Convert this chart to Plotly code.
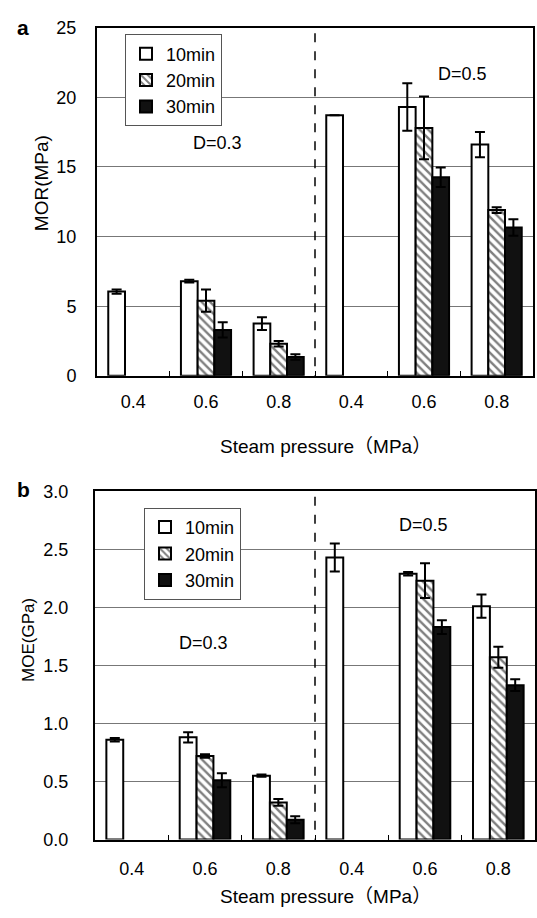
import plotly.graph_objects as go

W, H = 537, 918

# ---------------- data ----------------
tick_labels = ["0.4", "0.6", "0.8", "0.4", "0.6", "0.8"]
series_names = ["10min", "20min", "30min"]

mor_10 = [6.05, 6.8, 3.75, 18.7, 19.3, 16.6]
mor_20 = [None, 5.4, 2.3, None, 17.8, 11.9]
mor_30 = [None, 3.3, 1.35, None, 14.25, 10.65]
mor_10_err = [0.15, 0.1, 0.45, 0.0, 1.7, 0.9]
mor_20_err = [None, 0.8, 0.2, None, 2.25, 0.2]
mor_30_err = [None, 0.55, 0.2, None, 0.7, 0.6]

moe_10 = [0.86, 0.88, 0.55, 2.43, 2.29, 2.01]
moe_20 = [None, 0.72, 0.32, None, 2.23, 1.57]
moe_30 = [None, 0.51, 0.17, None, 1.83, 1.33]
moe_10_err = [0.015, 0.045, 0.01, 0.12, 0.015, 0.1]
moe_20_err = [None, 0.015, 0.03, None, 0.15, 0.09]
moe_30_err = [None, 0.06, 0.03, None, 0.06, 0.05]

FONT = "Liberation Sans, Arial, Noto Sans CJK JP, sans-serif"


def px_x(x):
    return x / W


def px_y(y):
    return 1 - y / H


fig = go.Figure()

styles = [
    dict(color="white", pattern=None),
    dict(color="white", pattern=dict(shape="\\", fgcolor="black", bgcolor="white", size=6, solidity=0.4)),
    dict(color="#111111", pattern=None),
]

xs = list(range(len(tick_labels)))

panels = [
    ("x", "y", "legend", [mor_10, mor_20, mor_30], [mor_10_err, mor_20_err, mor_30_err]),
    ("x2", "y2", "legend2", [moe_10, moe_20, moe_30], [moe_10_err, moe_20_err, moe_30_err]),
]

for xa, ya, leg, vals, errs in panels:
    for i, name in enumerate(series_names):
        marker = dict(color=styles[i]["color"], line=dict(color="black", width=2))
        if styles[i]["pattern"]:
            marker["pattern"] = styles[i]["pattern"]
        fig.add_trace(go.Bar(
            x=xs, y=vals[i], name=name, xaxis=xa, yaxis=ya, legend=leg,
            offsetgroup=str(i),
            marker=marker,
            error_y=dict(type="data", array=errs[i], symmetric=True,
                         color="black", thickness=2, width=5),
        ))

axis_common = dict(
    showline=True, linecolor="black", linewidth=2, mirror=True,
    tickfont=dict(family=FONT, size=18, color="black"),
    zeroline=False,
)

minor_ticks = dict(tickmode="array", tickvals=[0.5, 1.5, 2.5, 3.5, 4.5],
                   ticks="inside", ticklen=5, tickcolor="black", tickwidth=1)

fig.update_layout(
    xaxis=dict(domain=[px_x(97), px_x(533)], anchor="y", range=[-0.5, 5.5],
               tickmode="array", tickvals=xs, ticktext=tick_labels, ticks="",
               ticklabelstandoff=9, showgrid=False, minor=minor_ticks,
               **axis_common),
    yaxis=dict(domain=[px_y(374), px_y(18)], anchor="x", range=[0, 25],
               tickmode="array", tickvals=[0, 5, 10, 15, 20, 25], ticks="",
               ticklabelstandoff=15, showgrid=True, gridcolor="#777777", gridwidth=1,
               **axis_common),
    xaxis2=dict(domain=[px_x(95), px_x(535)], anchor="y2", range=[-0.5, 5.5],
                tickmode="array", tickvals=xs, ticktext=tick_labels, ticks="",
                ticklabelstandoff=12, showgrid=False, minor=minor_ticks,
                **axis_common),
    yaxis2=dict(domain=[px_y(848), px_y(492)], anchor="x2", range=[0, 3],
                tickmode="array", tickvals=[0, 0.5, 1, 1.5, 2, 2.5, 3], tickformat=".1f",
                ticks="", ticklabelstandoff=21, showgrid=True, gridcolor="#777777", gridwidth=1,
                **axis_common),
)

leg_common = dict(
    bgcolor="white", bordercolor="#555555", borderwidth=1,
    font=dict(family=FONT, size=18, color="black"),
    xanchor="left", yanchor="top", itemwidth=30, tracegroupgap=0,
)
fig.update_layout(
    legend=dict(x=px_x(125), y=px_y(25), **leg_common),
    legend2=dict(x=px_x(144), y=px_y(509), **leg_common),
    barmode="group", bargap=0.31, bargroupgap=0,
    width=W, height=H, margin=dict(l=0, r=0, t=0, b=0),
    plot_bgcolor="white", paper_bgcolor="white",
    showlegend=True,
)

fig.add_shape(type="line", xref="x", yref="y", x0=2.5, x1=2.5, y0=-0.6, y1=25,
              line=dict(color="black", width=1.5, dash="dash"))
fig.add_shape(type="line", xref="x2", yref="y2", x0=2.5, x1=2.5, y0=-0.07, y1=3,
              line=dict(color="black", width=1.5, dash="dash"))

ann = []


def text(x, y, s, size, bold=False, angle=0):
    ann.append(dict(x=px_x(x), y=px_y(y), xref="paper", yref="paper",
                    text=("<b>%s</b>" % s) if bold else s,
                    showarrow=False, textangle=angle,
                    font=dict(family=FONT, size=size, color="black"),
                    xanchor="center", yanchor="middle"))


text(23, 18, "a", 21, bold=True)
text(23, 490, "b", 21, bold=True)
text(217, 136, "D=0.3", 18)
text(462, 65, "D=0.5", 18)
text(203, 647, "D=0.3", 18)
text(423, 526, "D=0.5", 18)
text(325, 446, "Steam pressure（MPa）", 19)
text(325, 906, "Steam pressure（MPa）", 19)
text(41, 177, "MOR(MPa)", 19, angle=-90)
text(29, 644, "MOE(GPa)", 17, angle=-90)
fig.update_layout(annotations=ann)

fig.write_html("out.html")
